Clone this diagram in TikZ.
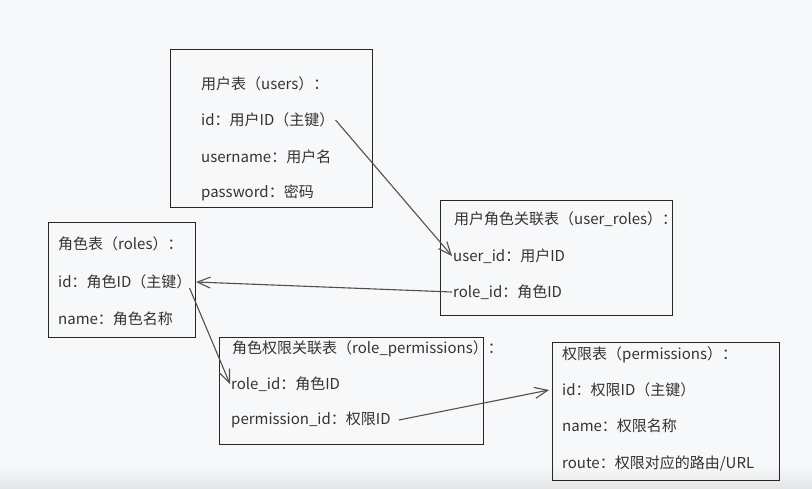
\documentclass[tikz,border=0pt]{standalone}
\usepackage{fontspec}
\setmainfont{Noto Sans CJK SC}
\usetikzlibrary{arrows.meta}
\definecolor{bgc}{HTML}{F7F8FA}
\definecolor{bgd}{HTML}{E4E5E7}
\definecolor{txt}{HTML}{333333}
\definecolor{lnc}{HTML}{505050}
\tikzset{
  tbl/.style={draw=black!85, line width=1pt},
  fld/.style={anchor=west, inner sep=0pt, text=txt, font=\fontsize{15}{17}\selectfont},
  rel/.style={draw=lnc, line width=1.1pt, -{Straight Barb[length=13pt,width=11pt,line width=1.1pt]}}
}
\begin{document}
\begin{tikzpicture}[x=1pt,y=-1pt]
\useasboundingbox (0,0) rectangle (812,488);
\fill[bgc] (0,0) rectangle (812,488);
\shade[top color=bgc, bottom color=bgd] (0,466) rectangle (812,488);
% users
\node[tbl, minimum width=202pt, minimum height=158pt, anchor=north west, inner sep=0pt] (users) at (170,49) {};
\node[fld] (ut) at (201,84) {用户表（users）：};
\node[fld] (uid) at (201,120) {id：用户ID（主键）};
\node[fld] (uname) at (201,157) {username：用户名};
\node[fld] (upw) at (201,193) {password：密码};
% user_roles
\node[tbl, minimum width=232pt, minimum height=115pt, anchor=north west, inner sep=0pt] (ur) at (440,200) {};
\node[fld] (urt) at (454,219) {用户角色关联表（user\_roles）：};
\node[fld] (uruid) at (453,256) {user\_id：用户ID};
\node[fld] (urrid) at (453,292) {role\_id：角色ID};
% roles
\node[tbl, minimum width=147pt, minimum height=115pt, anchor=north west, inner sep=0pt] (roles) at (48,222) {};
\node[fld] (rt) at (58,244) {角色表（roles）：};
\node[fld] (rid) at (58,282) {id：角色ID（主键）};
\node[fld] (rname) at (58,319) {name：角色名称};
% role_permissions
\node[tbl, minimum width=264pt, minimum height=107pt, anchor=north west, inner sep=0pt] (rp) at (219,337) {};
\node[fld] (rpt) at (232,349) {角色权限关联表（role\_permissions）：};
\node[fld] (rprid) at (231,384) {role\_id：角色ID};
\node[fld] (rppid) at (231,420) {permission\_id：权限ID};
% permissions
\node[tbl, minimum width=227pt, minimum height=138pt, anchor=north west, inner sep=0pt] (perm) at (552,342) {};
\node[fld] (pt) at (562,355) {权限表（permissions）：};
\node[fld] (pid) at (562,390) {id：权限ID（主键）};
\node[fld] (pname) at (562,426) {name：权限名称};
\node[fld] (proute) at (562,463) {route：权限对应的路由/URL};
% relations
\draw[rel] ([xshift=1pt]uid.east) -- ([xshift=-1pt]uruid.west);
\draw[rel] ([xshift=-1pt]urrid.west) -- (roles.east |- rid.east);
\draw[rel] ([xshift=-2pt,yshift=-6pt]rid.east) -- ([xshift=-1pt]rprid.west);
\draw[rel] ([xshift=8pt]rppid.east) -- ([xshift=-13pt]pid.west);
\end{tikzpicture}
\end{document}
